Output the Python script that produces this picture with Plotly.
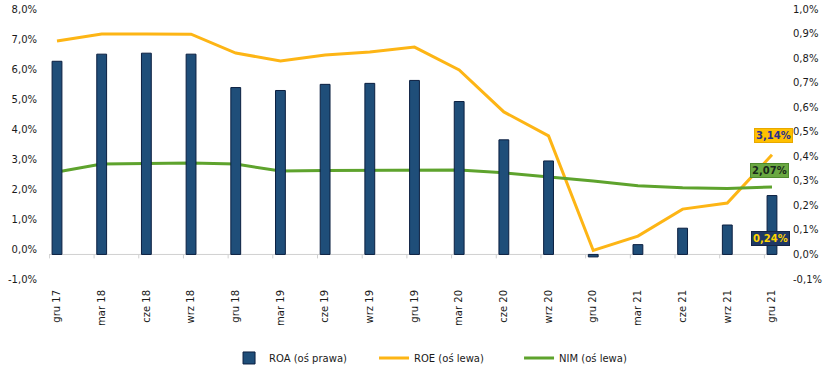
import plotly.graph_objects as go

categories = ["gru 17", "mar 18", "cze 18", "wrz 18", "gru 18", "mar 19", "cze 19", "wrz 19",
              "gru 19", "mar 20", "cze 20", "wrz 20", "gru 20", "mar 21", "cze 21", "wrz 21", "gru 21"]
roa = [0.787, 0.816, 0.82, 0.816, 0.68, 0.668, 0.693, 0.697, 0.709, 0.623, 0.467, 0.381,
       -0.01, 0.04, 0.107, 0.12, 0.24]
roe = [6.93, 7.17, 7.17, 7.16, 6.53, 6.27, 6.47, 6.57, 6.73, 5.97, 4.57, 3.77,
       -0.05, 0.43, 1.33, 1.53, 3.14]
nim = [2.57, 2.83, 2.85, 2.87, 2.83, 2.60, 2.62, 2.63, 2.64, 2.63, 2.54, 2.41,
       2.27, 2.11, 2.04, 2.02, 2.07]
left_ticks = [-1, 0, 1, 2, 3, 4, 5, 6, 7, 8]
right_ticks = [-0.1, 0.0, 0.1, 0.2, 0.3, 0.4, 0.5, 0.6, 0.7, 0.8, 0.9, 1.0]

FONT = "DejaVu Sans"
TXT = "#1a1a1a"
x = list(range(len(categories)))

def pl(v, d=1):
    return f"{v:.{d}f}".replace(".", ",") + "%"

fig = go.Figure()
fig.add_trace(go.Bar(x=x, y=roa, name="ROA (oś prawa)", yaxis="y2", width=0.22,
                     marker=dict(color="#1F4E79", line=dict(color="#0B1F40", width=1))))
fig.add_trace(go.Scatter(x=x, y=roe, name="ROE (oś lewa)", mode="lines",
                         line=dict(color="#FDB515", width=3)))
fig.add_trace(go.Scatter(x=x, y=nim, name="NIM (oś lewa)", mode="lines",
                         line=dict(color="#5EA32D", width=3)))

shapes = [dict(type="line", xref="x", yref="y2", x0=-0.179, x1=16.07, y0=0, y1=0,
               line=dict(color="#D0D0D0", width=1), layer="below")]
for i in x:
    shapes.append(dict(type="line", xref="x", yref="y2", x0=i - 0.17, x1=i - 0.17,
                       y0=0, y1=-0.016, line=dict(color="#D0D0D0", width=1), layer="below"))

last = len(categories) - 1
annotations = [
    dict(x=last, y=roe[-1], xref="x", yref="y", text=f"<b>{pl(roe[-1], 2)}</b>", showarrow=False,
         xshift=2, yshift=19, bgcolor="#FFC000", bordercolor="#E8A800", borderwidth=1, borderpad=1,
         font=dict(family=FONT, size=10, color="#2B2F8C")),
    dict(x=last, y=nim[-1], xref="x", yref="y", text=f"<b>{pl(nim[-1], 2)}</b>", showarrow=False,
         xshift=-2, yshift=16, bgcolor="#6AA842", bordercolor="#4E8A2E", borderwidth=1, borderpad=1,
         font=dict(family=FONT, size=10, color="#1a2a1a")),
    dict(x=last, y=roa[-1], xref="x", yref="y2", text=f"<b>{pl(roa[-1], 2)}</b>", showarrow=False,
         xshift=-1, yshift=-43, bgcolor="#1F3864", bordercolor="#142546", borderwidth=1, borderpad=1,
         font=dict(family=FONT, size=10, color="#FFD500")),
]

fig.update_layout(
    width=830, height=387,
    margin=dict(l=49, r=51, t=9, b=108, autoexpand=False),
    paper_bgcolor="white", plot_bgcolor="white",
    font=dict(family=FONT, size=10, color=TXT),
    showlegend=True,
    legend=dict(orientation="h", xref="container", yref="container", x=0.538, y=0.075,
                xanchor="center", yanchor="middle", font=dict(family=FONT, size=10, color=TXT),
                entrywidth=100, entrywidthmode="pixels", traceorder="normal"),
    xaxis=dict(range=[-0.179, 16.157], tickvals=x, ticktext=categories, tickangle=-90,
               showgrid=False, zeroline=False, showline=False, automargin=False,
               ticks="outside", ticklen=6, tickcolor="rgba(0,0,0,0)"),
    yaxis=dict(range=[-1, 8], tickvals=left_ticks, ticktext=[pl(v) for v in left_ticks],
               showgrid=False, zeroline=False, showline=False, automargin=False,
               ticks="outside", ticklen=9, tickcolor="rgba(0,0,0,0)"),
    yaxis2=dict(range=[-0.1, 1.0], tickvals=right_ticks, ticktext=[pl(v) for v in right_ticks],
                overlaying="y", side="right", showgrid=False, zeroline=False, showline=False,
                automargin=False,
                ticks="outside", ticklen=11, tickcolor="rgba(0,0,0,0)"),
    shapes=shapes,
    annotations=annotations,
)

fig.write_html("out.html", config={"displayModeBar": False},
               post_script="document.body.style.margin='0';")
